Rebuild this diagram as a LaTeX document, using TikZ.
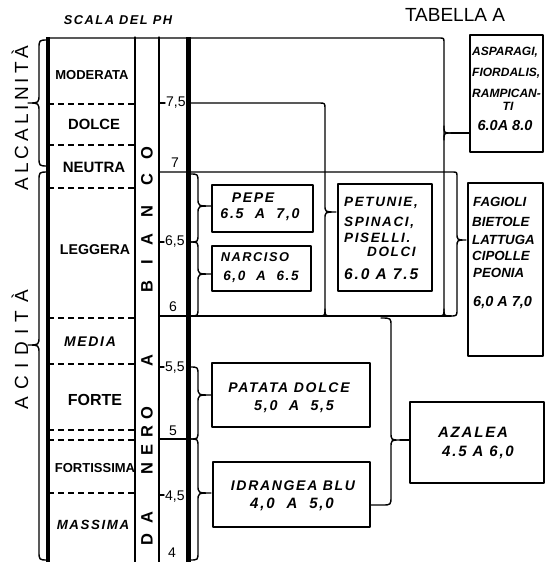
\documentclass[tikz,border=0pt]{standalone}
\usepackage{fontspec}
\setmainfont{Liberation Sans}
\newfontfamily\hand[LetterSpace=12]{Liberation Sans}
\newfontfamily\wideA[LetterSpace=21]{Liberation Sans}
\newfontfamily\wideB[LetterSpace=39]{Liberation Sans}
\newcommand{\bracer}[6]{(#1-#5,#2) .. controls (#1,#2) .. (#1,#2+#5) -- (#1,#3-#5) .. controls (#1,#3) .. (#1+#6,#3) .. controls (#1,#3) .. (#1,#3+#5) -- (#1,#4-#5) .. controls (#1,#4) .. (#1-#5,#4)}
\newcommand{\bracel}[6]{(#1+#5,#2) .. controls (#1,#2) .. (#1,#2+#5) -- (#1,#3-#5) .. controls (#1,#3) .. (#1-#6,#3) .. controls (#1,#3) .. (#1,#3+#5) -- (#1,#4-#5) .. controls (#1,#4) .. (#1+#5,#4)}
\begin{document}
\begin{tikzpicture}[x=1pt,y=-1pt,line cap=round,line join=round,
  conn/.style={line width=1.4pt},
  frame/.style={line width=1.3pt},
  heavy/.style={line width=4.5pt,line cap=butt},
  dashline/.style={line width=1.3pt,dash pattern=on 6pt off 4pt,line cap=butt},
  boxthick/.style={draw,line width=2.8pt,inner sep=0pt,outer sep=0pt,anchor=north west},
  boxthin/.style={draw,line width=2pt,inner sep=0pt,outer sep=0pt,anchor=north west},
  cat/.style={inner sep=0pt,font=\bfseries\fontsize{#1}{#1}\selectfont},
  icat/.style={inner sep=0pt,font=\hand\bfseries\itshape\fontsize{#1}{#1}\selectfont},
  it/.style={inner sep=0pt,font=\hand\bfseries\itshape\fontsize{#1}{#1}\selectfont},
  itn/.style={inner sep=0pt,font=\bfseries\itshape\fontsize{#1}{#1}\selectfont},
  num/.style={inner sep=0pt,font=\fontsize{14}{14}\selectfont},
  col/.style={inner sep=0pt,rotate=90,font=\bfseries\fontsize{16.5}{16.5}\selectfont}]
\useasboundingbox (0,0) rectangle (545,562);

% headers
\node[it=12.8] (hscala) at (118,20) {SCALA DEL PH};
\node[inner sep=0pt,font=\fontsize{19}{19}\selectfont] (htab) at (455,15) {TABELLA A};

% vertical titles
\node[inner sep=0pt,rotate=90,font=\wideA\fontsize{19}{19}\selectfont] (alc) at (20,118) {ALCALINITÀ};
\node[inner sep=0pt,rotate=90,font=\wideB\fontsize{19}{19}\selectfont] (acid) at (20,350) {ACIDITÀ};

% main verticals
\draw[heavy] (48,37) -- (48,562);
\draw[heavy,line width=5pt] (188,37) -- (188,562);
\draw[frame] (135,37) -- (135,562);
\draw[frame] (159,37) -- (159,562);

% left braces
\draw[conn] \bracel{39}{40}{103}{166}{9}{11};
\draw[conn] \bracel{39}{172}{345}{560}{9}{11};

% category dashed lines
\foreach \yy in {104,145,188,318,364,430,440,493}
  \draw[dashline] (48,\yy) -- (135,\yy);

% category labels
\node[cat=13] (c1) at (92,75) {MODERATA};
\node[cat=14.8] (c2) at (94,124) {DOLCE};
\node[cat=15] (c3) at (94,167) {NEUTRA};
\node[cat=14.2] (c4) at (95,250) {LEGGERA};
\node[icat=14] (c5) at (90,342) {MEDIA};
\node[cat=16] (c6) at (95,400) {FORTE};
\node[cat=13] (c7) at (95,468) {FORTISSIMA};
\node[icat=13.3] (c8) at (93,525) {MASSIMA};

% rotated letters DA NERO A BIANCO
\node[col] (l1) at (147,540) {D};
\node[col] (l2) at (147,518) {A};
\node[col] (l3) at (147,469) {N};
\node[col] (l4) at (147,450) {E};
\node[col] (l5) at (147,432) {R};
\node[col] (l6) at (147,413) {O};
\node[col] (l7) at (147,361) {A};
\node[col] (l8) at (147,287) {B};
\node[col] (l9) at (147,262) {I};
\node[col] (l10) at (147,240) {A};
\node[col] (l11) at (147,212) {N};
\node[col] (l12) at (147,180) {C};
\node[col] (l13) at (147,153) {O};

% scale numbers and ticks
\draw[conn] (159,103) -- (165,103);
\node[num,anchor=west] (n75) at (166,103) {7,5};
\node[num] (n7) at (175,163) {7};
\draw[conn] (159,242) -- (164,242);
\node[num,anchor=west] (n65) at (165,242) {6,5};
\node[num] (n6) at (173,307) {6};
\draw[conn] (159,367) -- (164,367);
\node[num,anchor=west] (n55) at (165,368) {5,5};
\node[num] (n5) at (173,431) {5};
\draw[conn] (159,439) -- (188,439);
\draw[conn] (159,495) -- (164,495);
\node[num,anchor=west] (n45) at (165,497) {4,5};
\node[num] (n4) at (172,553) {4};

% boxes
\node[boxthin,minimum width=73,minimum height=117] (asp) at (470,35) {};
\node[boxthin,minimum width=75,minimum height=173] (fag) at (468,183) {};
\node[boxthick,minimum width=94,minimum height=107] (pet) at (338,184) {};
\node[boxthick,minimum width=101,minimum height=47] (pepe) at (212,185) {};
\node[boxthick,minimum width=99,minimum height=45] (nar) at (212,246) {};
\node[boxthick,minimum width=158,minimum height=64] (pat) at (212,363) {};
\node[boxthick,minimum width=157,minimum height=65] (idr) at (213,462) {};
\node[boxthin,minimum width=134,minimum height=81] (aza) at (410,402) {};

% box texts
\node[itn=12,anchor=west] (a1) at (472,52) {ASPARAGI,};
\node[itn=12,anchor=west] (a2) at (472,73) {FIORDALIS,};
\node[itn=12,anchor=west] (a3) at (472,93) {RAMPICAN-};
\node[itn=12] (a4) at (508,106) {TI};
\node[itn=14.5] (a5) at (505,126) {6.0A 8.0};

\node[itn=13.3,anchor=west] (f1) at (473,202) {FAGIOLI};
\node[itn=13.3,anchor=west] (f2) at (472,222) {BIETOLE};
\node[itn=13.3,anchor=west] (f3) at (472,240) {LATTUGA};
\node[itn=13.3,anchor=west] (f4) at (472,256) {CIPOLLE};
\node[itn=13.3,anchor=west] (f5) at (473,273) {PEONIA};
\node[itn=14.5,anchor=west] (f6) at (473,303) {6,0 A 7,0};

\node[it=13.5,anchor=west] (p1) at (344,203) {PETUNIE,};
\node[it=13.5,anchor=west] (p2) at (344,223) {SPINACI,};
\node[it=13.5,anchor=west] (p3) at (344,238) {PISELLI.};
\node[it=13.5,anchor=west] (p4) at (367,252) {DOLCI};
\node[it=15.5,anchor=west] (p5) at (344,274) {6.0 A 7.5};

\node[it=14] (e1) at (253,198) {PEPE};
\node[it=14.2] (e2) at (260,215) {6.5~~A~~7,0};
\node[it=12.8] (r1) at (255,257) {NARCISO};
\node[it=13.5] (r2) at (261,277) {6,0~~A~~6.5};
\node[it=14] (t1) at (289,388) {PATATA~DOLCE};
\node[it=14.3] (t2) at (294,407) {5,0~~A~~5,5};
\node[it=14] (i1) at (293,486) {IDRANGEA BLU};
\node[it=15] (i2) at (292,504) {4,0~~A~~5,0};
\node[it=15] (z1) at (473,432) {AZALEA};
\node[it=15] (z2) at (478,452) {4.5 A 6,0};

% top line and ASPARAGI bracket
\draw[conn] (48,38) -- (439,38) .. controls (444,38) .. (444,43) -- (444,309) .. controls (444,316) .. (437,316);
\draw[conn] (444,309) .. controls (444,316) .. (451,316);
\coordinate (aspTip) at (451,133);
\draw[conn] (444,126) .. controls (444,133) .. (aspTip);
\draw[conn] (444,140) .. controls (444,133) .. (aspTip);
\draw[conn] (aspTip) -- (aspTip -| asp.west);

% pH 6 line
\draw[conn] (159,316) -- (451,316);

% 7 line and FAGIOLI brace
\coordinate (fagTip) at (466,240);
\draw[conn] (159,172) -- (452,172) .. controls (457,172) .. (457,177) -- (457,233) .. controls (457,240) .. (fagTip)
  .. controls (457,240) .. (457,247) -- (457,309) .. controls (457,316) .. (450,316);

% 7.5 line and PETUNIE bracket
\coordinate (petTip) at (336,212);
\draw[conn] (188,103) -- (319,103) .. controls (325,103) .. (325,109) -- (325,205) .. controls (325,212) .. (petTip)
  .. controls (325,212) .. (325,219) -- (325,309) .. controls (325,316) .. (318,316);
\draw[conn] (325,309) .. controls (325,316) .. (332,316);

% PEPE / NARCISO braces
\draw[conn] \bracer{198}{174}{206}{242}{8}{13};
\draw[conn] \bracer{198}{242}{274}{316}{8}{13};

% PATATA / IDRANGEA braces
\draw[conn] \bracer{198}{367}{395}{439}{8}{13};
\draw[conn] \bracer{198}{439}{493}{560}{8}{13};

% AZALEA bracket
\coordinate (azaTip) at (400,440);
\draw[conn] (381,318) .. controls (391,318) .. (391,326) -- (391,432) .. controls (391,440) .. (azaTip)
  .. controls (391,440) .. (391,448) -- (391,496) .. controls (391,505) .. (382,505) -- (382,505 -| idr.east);
\draw[conn] (azaTip) -- (azaTip -| aza.west);
\end{tikzpicture}
\end{document}
